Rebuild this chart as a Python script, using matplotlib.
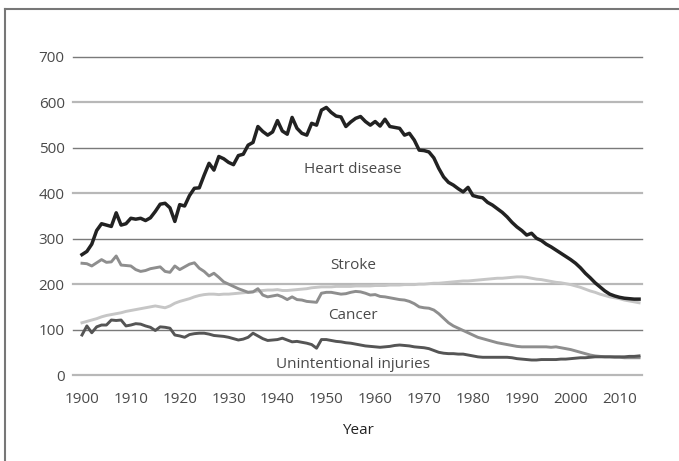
import matplotlib
matplotlib.use("Agg")
import matplotlib.pyplot as plt
from matplotlib.lines import Line2D
import numpy as np

years = list(range(1900, 2015))

heart_disease = [265, 272, 288, 318, 333, 330, 327, 357, 330, 333,
                 345, 343, 345, 340, 346, 360, 376, 378, 368, 338,
                 375, 372, 395, 411, 412, 440, 466, 451, 481, 476,
                 468, 463, 483, 486, 506, 512, 547, 536, 528, 535,
                 560, 537, 530, 567, 543, 532, 528, 554, 550, 583,
                 589, 578, 570, 568, 547, 557, 565, 569, 558, 550,
                 558, 548, 563, 547, 545, 543, 528, 532, 517, 495,
                 494, 491, 478, 455, 436, 424, 418, 410, 403, 413,
                 395, 392, 390, 380, 374, 366, 358, 348, 336, 326,
                 318, 308, 312, 301, 296, 288, 282, 275, 268, 261,
                 254, 246, 236, 224, 214, 203, 194, 185, 178, 174,
                 171, 169, 168, 167, 167]

stroke = [246, 245, 240, 247, 254, 248, 249, 262, 242, 241,
          240, 232, 228, 230, 234, 236, 238, 228, 226, 240,
          232, 238, 244, 247, 235, 228, 218, 224, 215, 205,
          200, 195, 190, 186, 182, 183, 190, 176, 172, 174,
          176, 172, 166, 172, 166, 165, 162, 161, 160, 180,
          182, 182, 180, 178, 179, 182, 184, 183, 180, 176,
          177, 173, 172, 170, 168, 166, 165, 162, 157, 150,
          148, 147, 143, 135, 125, 115, 108, 103, 98, 93,
          88, 83, 80, 77, 74, 71, 69, 67, 65, 63,
          62, 62, 62, 62, 62, 62, 61, 62, 60, 58,
          56, 53, 50, 47, 44, 42, 41, 40, 40, 39,
          39, 38, 38, 38, 38]

cancer = [115, 118, 121, 124, 128, 131, 133, 135, 137, 140,
          142, 144, 146, 148, 150, 152, 150, 148, 152, 158,
          162, 165, 168, 172, 175, 177, 178, 178, 177, 178,
          178, 179, 180, 181, 182, 183, 185, 186, 187, 187,
          188, 186, 186, 187, 188, 189, 190, 192, 193, 194,
          194, 194, 195, 195, 195, 195, 196, 196, 196, 196,
          197, 197, 197, 198, 198, 198, 199, 199, 199, 200,
          200, 201, 202, 202, 203, 204, 205, 206, 207, 207,
          208, 209, 210, 211, 212, 213, 213, 214, 215, 216,
          216, 215, 213, 211, 210, 208, 206, 204, 203, 201,
          199, 196, 193, 189, 185, 182, 178, 175, 172, 170,
          168, 165, 163, 161, 159]

injuries = [88, 108, 93, 106, 110, 110, 121, 120, 121, 108,
            110, 113, 112, 108, 105, 98, 106, 105, 103, 88,
            86, 83, 89, 91, 92, 92, 90, 87, 86, 85,
            83, 80, 77, 79, 83, 92, 86, 80, 76, 77,
            78, 81, 77, 73, 74, 72, 70, 67, 59, 78,
            78, 76, 74, 73, 71, 70, 68, 66, 64, 63,
            62, 61, 62, 63, 65, 66, 65, 64, 62, 61,
            60, 58, 54, 50, 48, 47, 47, 46, 46, 44,
            42, 40, 39, 39, 39, 39, 39, 39, 38, 36,
            35, 34, 33, 33, 34, 34, 34, 34, 35, 35,
            36, 37, 38, 38, 39, 40, 40, 40, 40, 40,
            40, 40, 41, 41, 42]

y_ticks = [0, 100, 200, 300, 400, 500, 600, 700]
x_ticks = [1900, 1910, 1920, 1930, 1940, 1950, 1960, 1970, 1980, 1990, 2000, 2010]

labels = [("Heart disease", 1955.5, 453), ("Stroke", 1955.5, 240),
          ("Cancer", 1955.5, 130), ("Unintentional injuries", 1955.5, 24)]

plt.rcParams['font.family'] = ['Open Sans', 'DejaVu Sans']

W, H = 679, 461
fig = plt.figure(figsize=(W / 100, H / 100), dpi=100)
fig.patch.set_facecolor('white')

ax = fig.add_axes([73 / W, (H - 375) / H, (642 - 73) / W, (375 - 57) / H])
ax.set_xlim(1898.16, 2014.6)
ax.set_ylim(0, 700)

for v in y_ticks:
    dark = (v // 100) % 2 == 1
    ax.axhline(v, color='#7a7a7a' if dark else '#b8b8b8',
               lw=1.0 if dark else 1.6, zorder=1, clip_on=False)

ax.plot(years, cancer, color='#c6c6c6', lw=2.1, zorder=3)
ax.plot(years, stroke, color='#8e8e8e', lw=2.1, zorder=4)
ax.plot(years, injuries, color='#555555', lw=2.1, zorder=4)
ax.plot(years, heart_disease, color='#222222', lw=2.5, zorder=5)

for name, xv, yv in labels:
    ax.text(xv, yv, name, ha='center', va='center', fontsize=11,
            color='#4a4a4a', zorder=6)

for s in ax.spines.values():
    s.set_visible(False)
ax.set_yticks(y_ticks)
ax.set_xticks(x_ticks)
ax.tick_params(axis='both', length=0, labelsize=11, labelcolor='#4a4a4a')
ax.tick_params(axis='y', pad=6)
ax.tick_params(axis='x', pad=12)
ax.set_xlabel('Year', fontsize=11, color='#222222', labelpad=12)

# figure frame (top and left)
fig.add_artist(Line2D([5 / W, 1.0], [1 - 9 / H, 1 - 9 / H], color='#777777', lw=1.5))
fig.add_artist(Line2D([5 / W, 5 / W], [0, 1 - 9 / H], color='#777777', lw=1.5))

fig.savefig('out.png', dpi=100)
